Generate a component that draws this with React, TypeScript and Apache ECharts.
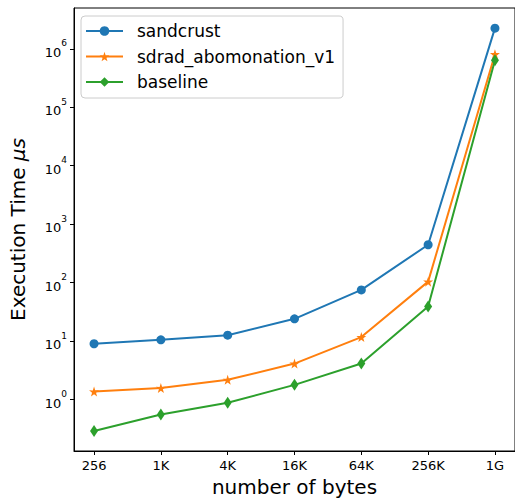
import React, { useEffect, useRef } from 'react';
import * as echarts from 'echarts';

const categories = ['256', '1K', '4K', '16K', '64K', '256K', '1G'];
const sandcrust = [9.0, 10.5, 12.6, 24, 75, 445, 2.26e6];
const sdradAbomonation = [1.37, 1.57, 2.17, 4.12, 11.7, 104, 8.1e5];
const baseline = [0.29, 0.555, 0.88, 1.78, 4.12, 39, 6.4e5];
const yMajorTicks = [1, 10, 100, 1e3, 1e4, 1e5, 1e6];
const yMinorTicks: number[] = [];
for (let e = -1; e <= 6; e++) {
  for (let k = 2; k <= 9; k++) yMinorTicks.push(k * Math.pow(10, e));
}
const xTicks = categories.map((_, i) => i);

const FONT = 'DejaVu Sans';
const STAR = 'path://M50,0 L61.8,35.1 L98.1,34.5 L69.1,56.4 L79.4,90.5 L50,70 L20.6,90.5 L30.9,56.4 L1.9,34.5 L38.2,35.1 Z';

export default function App() {
  const ref = useRef<HTMLDivElement>(null);
  useEffect(() => {
    document.body.style.margin = '0';
    const chart = echarts.init(ref.current!, null, { renderer: 'svg' });
    const toPairs = (arr: number[]) => arr.map((v, i) => [i, v]);
    const yMin = 0.1315;
    const yMax = 5.0e6;
    chart.setOption({
      animation: false,
      backgroundColor: '#fff',
      textStyle: { fontFamily: FONT },
      grid: {
        left: 71, top: 8, width: 447, height: 443,
        show: true, borderColor: '#000', borderWidth: 1, backgroundColor: 'transparent',
      },
      legend: {
        orient: 'vertical',
        left: 81, top: 16,
        padding: [6, 8, 7, 4],
        itemWidth: 37, itemHeight: 12, itemGap: 7.5,
        borderColor: '#cccccc', borderWidth: 1, borderRadius: 4,
        backgroundColor: 'rgba(255,255,255,0.8)',
        textStyle: { fontSize: 17, color: '#000', fontFamily: FONT, lineHeight: 18, padding: [0, 0, 0, 9] },
        data: ['sandcrust', 'sdrad_abomonation_v1', 'baseline'],
      },
      xAxis: {
        type: 'value', min: -0.3, max: 6.3,
        name: 'number of bytes', nameLocation: 'middle', nameGap: 26,
        nameTextStyle: { fontSize: 20, color: '#000', fontFamily: FONT },
        axisLine: { show: true, onZero: false, lineStyle: { color: '#000', width: 1 } },
        axisTick: { show: true, customValues: xTicks, length: 4, lineStyle: { color: '#000' } },
        axisLabel: {
          customValues: xTicks, fontSize: 13, color: '#000', margin: 8, fontFamily: FONT,
          formatter: (v: number) => categories[Math.round(v)],
        },
        splitLine: { show: false },
      },
      yAxis: [
        {
          type: 'log', logBase: 10, min: yMin, max: yMax,
          name: '{n|Execution Time }{i|μs}', nameLocation: 'middle', nameGap: 46,
          nameTextStyle: {
            fontSize: 20, color: '#000', fontFamily: FONT,
            rich: {
              n: { fontSize: 20, color: '#000', fontFamily: FONT },
              i: { fontSize: 20, color: '#000', fontFamily: FONT, fontStyle: 'italic' },
            },
          },
          axisLine: { show: true, onZero: false, lineStyle: { color: '#000', width: 1 } },
          axisTick: { show: true, customValues: yMajorTicks, length: 4, lineStyle: { color: '#000' } },
          axisLabel: {
            customValues: yMajorTicks, margin: 7, color: '#000',
            formatter: (v: number) => `{b|10}{s|${Math.round(Math.log10(v))}}`,
            rich: {
              b: { fontSize: 13, color: '#000', fontFamily: FONT, lineHeight: 20, verticalAlign: 'bottom' },
              s: { fontSize: 9, color: '#000', fontFamily: FONT, lineHeight: 9, verticalAlign: 'top' },
            },
          },
          splitLine: { show: false },
        },
        {
          type: 'log', logBase: 10, min: yMin, max: yMax,
          axisLine: { show: false, onZero: false },
          axisTick: { show: true, customValues: yMinorTicks, length: 2, lineStyle: { color: '#000' } },
          axisLabel: { show: false },
          splitLine: { show: false },
        },
      ],
      series: [
        {
          name: 'sandcrust', type: 'line', data: toPairs(sandcrust),
          symbol: 'circle', symbolSize: 9,
          itemStyle: { color: '#1f77b4' }, lineStyle: { color: '#1f77b4', width: 2 },
        },
        {
          name: 'sdrad_abomonation_v1', type: 'line', data: toPairs(sdradAbomonation),
          symbol: STAR, symbolSize: 10,
          itemStyle: { color: '#ff7f0e' }, lineStyle: { color: '#ff7f0e', width: 2 },
        },
        {
          name: 'baseline', type: 'line', data: toPairs(baseline),
          symbol: 'diamond', symbolSize: [8, 12],
          itemStyle: { color: '#2ca02c' }, lineStyle: { color: '#2ca02c', width: 2 },
        },
      ],
    });
    return () => chart.dispose();
  }, []);
  return <div ref={ref} style={{ width: 515, height: 502 }} />;
}
